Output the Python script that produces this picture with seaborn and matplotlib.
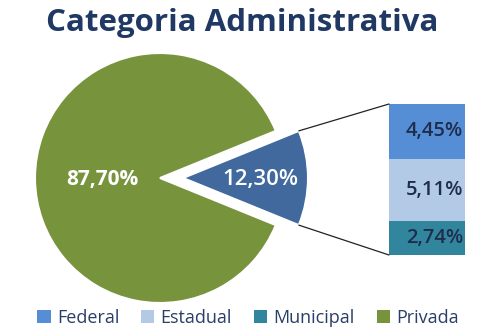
import numpy as np
import matplotlib
matplotlib.use("Agg")
import matplotlib.pyplot as plt
import seaborn as sns
from matplotlib.patches import Patch

sns.set_theme(style="white")
plt.rcParams['font.family'] = ['Open Sans', 'DejaVu Sans']

# ---- data ----
title = "Categoria Administrativa"
pie_labels = ["Pública", "Privada"]
pie_values = [12.30, 87.70]
bar_labels = ["Federal", "Estadual", "Municipal"]
bar_values = [4.45, 5.11, 2.74]
legend_labels = ["Federal", "Estadual", "Municipal", "Privada"]

# ---- style ----
c_fed = "#558ED5"
c_est = "#B3CAE6"
c_mun = "#31859C"
c_priv = "#77933C"
c_pub = "#41699E"
c_title = "#1F3864"
c_dark = "#1F2D4D"

W, H = 504, 334
fig = plt.figure(figsize=(W / 100, H / 100), dpi=100)
ax = fig.add_axes([0, 0, 1, 1])

center = (160, 156)
radius = 125
explode_px = 23
pub_angle = pie_values[0] / 100 * 360
start = -pub_angle / 2

wedges, _ = ax.pie(pie_values, colors=[c_pub, c_priv], startangle=start,
                   counterclock=True, center=center, radius=radius,
                   explode=[explode_px, 0],
                   wedgeprops=dict(edgecolor="white", linewidth=1.5))

# labels on pie
tip = (center[0] + explode_px, center[1])
ax.text(tip[0] + 0.62 * radius, tip[1] - 1,
        f"{pie_values[0]:.2f}%".replace(".", ","), color="white",
        fontsize=16, fontweight="semibold", ha="center", va="center")
ax.text(center[0] - 0.46 * radius, center[1] - 2,
        f"{pie_values[1]:.2f}%".replace(".", ","), color="white",
        fontsize=15, fontweight="bold", ha="center", va="center")

# stacked bar (Federal top, Municipal bottom)
bar_x = 427
bar_w = 76
bar_bottom = 79
scale = 151 / sum(bar_values)
colors_bar = [c_fed, c_est, c_mun]
heights = [v * scale for v in bar_values]
bottoms = []
acc = bar_bottom
for h in reversed(heights):
    bottoms.append(acc)
    acc += h
bottoms = list(reversed(bottoms))
ax.bar([bar_x] * 3, heights, bottom=bottoms, width=bar_w, color=colors_bar,
       edgecolor="none")
for v, b, h in zip(bar_values, bottoms, heights):
    ax.text(bar_x + bar_w / 2 - 2, b + h / 2, f"{v:.2f}%".replace(".", ","),
            color=c_dark, fontsize=14.5, fontweight="semibold",
            ha="right", va="center")

# connector lines
th = np.deg2rad(pub_angle / 2)
top_corner = (tip[0] + radius * np.cos(th), tip[1] + radius * np.sin(th))
bot_corner = (tip[0] + radius * np.cos(th), tip[1] - radius * np.sin(th))
bar_top = bottoms[0] + heights[0]
ax.plot([top_corner[0], bar_x - bar_w / 2], [top_corner[1], bar_top],
        color="#222222", lw=0.9)
ax.plot([bot_corner[0], bar_x - bar_w / 2], [bot_corner[1], bar_bottom],
        color="#222222", lw=0.9)

ax.set_xlim(0, W)
ax.set_ylim(0, H)
ax.set_aspect("equal")
ax.axis("off")

fig.text(242 / W, 1 - 23 / H, title, color=c_title, fontsize=22.5,
         fontweight="bold", ha="center", va="center")

handles = [Patch(facecolor=c, edgecolor="none") for c in [c_fed, c_est, c_mun, c_priv]]
fig.legend(handles, legend_labels, loc="center", ncol=4,
           bbox_to_anchor=(248 / W, 1 - 318 / H), frameon=False,
           fontsize=13, handlelength=0.75, handleheight=0.75,
           handletextpad=0.35, columnspacing=1.2, labelcolor="#2A3F66")

fig.savefig("out.png", dpi=100)
